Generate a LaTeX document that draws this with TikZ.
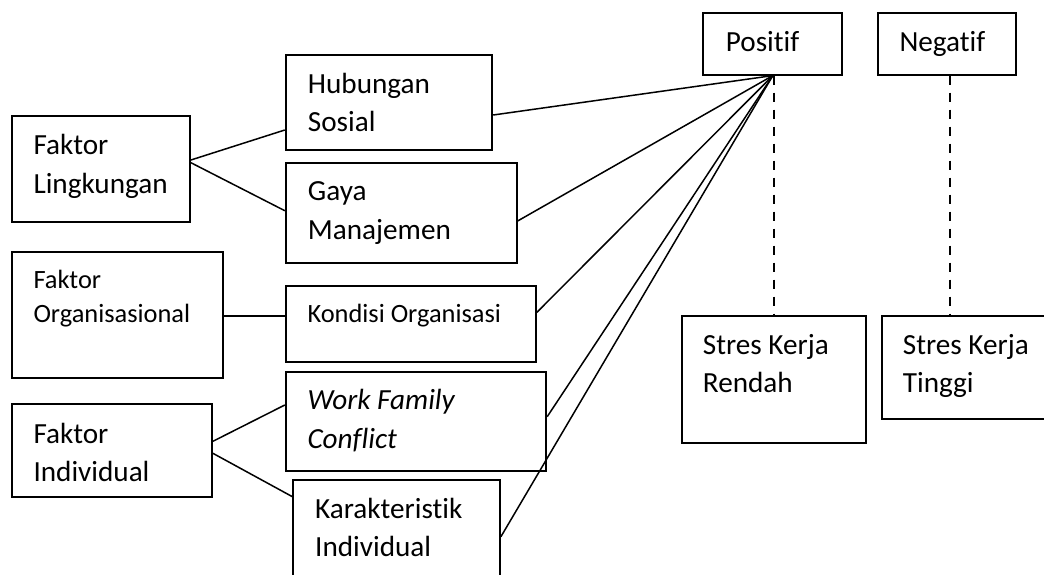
\documentclass[tikz,border=0pt]{standalone}
\usepackage{fontspec}
\setmainfont{Carlito}[Ligatures={NoCommon,NoContextual}]
\begin{document}
\begin{tikzpicture}[x=1pt,y=-1pt,
  box/.style={draw=black,line width=1.8pt,inner sep=0pt,rectangle},
  txt/.style={anchor=base west,align=left,inner sep=0pt,font=\fontsize{29.2}{38.4}\selectfont},
  smalltxt/.style={anchor=base west,align=left,inner sep=0pt,font=\fontsize{26.4}{34.5}\selectfont},
  conn/.style={line width=1.5pt},
  dashconn/.style={line width=1.5pt,dash pattern=on 9pt off 8pt}]
\clip (0,0) rectangle (1044,574);
% boxes
\node[box,minimum width=178.3pt,minimum height=106pt] (fl) at (100.85,169) {};
\node[box,minimum width=206.6pt,minimum height=95.3pt] (hs) at (389,102.65) {};
\node[box,minimum width=231pt,minimum height=100pt] (gm) at (401.2,212.7) {};
\node[box,minimum width=211.6pt,minimum height=125.4pt] (fo) at (117.5,315) {};
\node[box,minimum width=250.3pt,minimum height=76pt] (ko) at (410.85,323.7) {};
\node[box,minimum width=260.6pt,minimum height=99pt] (wf) at (416,421.8) {};
\node[box,minimum width=206.7pt,minimum height=110pt] (ki) at (396.65,535) {};
\node[box,minimum width=200.3pt,minimum height=92.7pt] (fi) at (111.85,450.65) {};
\node[box,minimum width=139pt,minimum height=62pt] (po) at (772.8,43.7) {};
\node[box,minimum width=138.3pt,minimum height=62pt] (ne) at (946.85,43.7) {};
\node[box,minimum width=184.3pt,minimum height=126.7pt] (sr) at (773.85,379.35) {};
\node[box,minimum width=183.3pt,minimum height=102.7pt] (st) at (973.35,367.35) {};
% texts (base anchor = baseline of last line)
\node[txt] (flt) at (33.3,193.3) {Faktor\\Lingkungan};
\node[txt] (hst) at (307.7,131.7) {Hubungan\\Sosial};
\node[txt] (gmt) at (307.7,239) {Gaya\\Manajemen};
\node[smalltxt] (fot) at (33.3,322.7) {Faktor\\Organisasional};
\node[smalltxt] (kot) at (307.3,322.3) {Kondisi Organisasi};
\node[txt] (wft) at (307.3,448.3) {\itshape Work Family\\\itshape Conflict};
\node[txt] (fit) at (33.3,481.7) {Faktor\\Individual};
\node[txt] (kit) at (315,556.7) {Karakteristik\\Individual};
\node[txt] (pot) at (725.7,51.7) {Positif};
\node[txt] (net) at (899.3,51.7) {Negatif};
\node[txt] (srt) at (702.7,392.7) {Stres Kerja\\Rendah};
\node[txt] (stt) at (902.7,392.7) {Stres Kerja\\Tinggi};
% connectors
\draw[conn] ([yshift=9pt]fl.east) -- ([yshift=-27.35pt]hs.west);
\draw[conn] ([yshift=6.3pt]fl.east) -- ([yshift=2pt]gm.west);
\draw[conn] ([yshift=-1pt]fo.east) -- ([yshift=7.7pt]ko.west);
\draw[conn] ([yshift=9.35pt]fi.east) -- ([yshift=16.8pt]wf.west);
\draw[conn] ([yshift=-2.65pt]fi.east) -- ([yshift=38.3pt]ki.west);
\draw[conn] ([yshift=-12.35pt]hs.east) -- (po.south);
\draw[conn] ([yshift=-8.3pt]gm.east) -- (po.south);
\draw[conn] ([yshift=11.4pt]ko.east) -- (po.south);
\draw[conn] ([yshift=5.1pt]wf.east) -- (po.south);
\draw[conn] ([yshift=-1.7pt]ki.east) -- (po.south);
\draw[dashconn] ([xshift=1pt]po.south) -- ([xshift=1pt]po.south |- sr.north);
\draw[dashconn] ([xshift=3.15pt]ne.south) -- ([xshift=3.15pt]ne.south |- st.north);
\end{tikzpicture}
\end{document}
